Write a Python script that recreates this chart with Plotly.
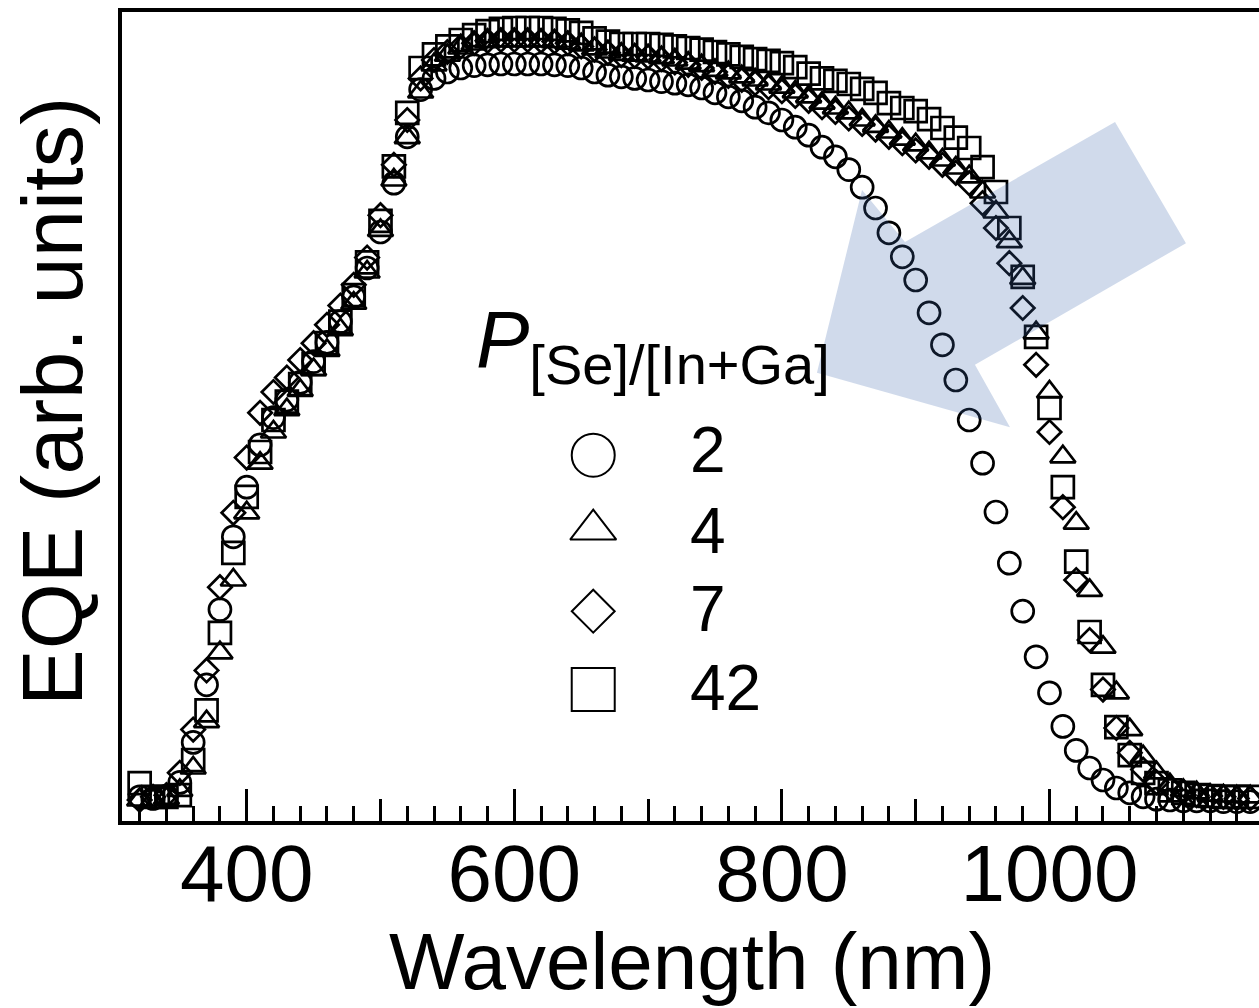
import plotly.graph_objects as go

# ---------------- data (EQE, arbitrary units) ----------------
wavelength = [320, 330, 340, 350, 360, 370, 380, 390, 400, 410, 420, 430, 440, 450, 460, 470, 480, 490,
              500, 510, 520, 530, 540, 550, 560, 570, 580, 590, 600, 610, 620, 630, 640, 650, 660, 670,
              680, 690, 700, 710, 720, 730, 740, 750, 760, 770, 780, 790, 800, 810, 820, 830, 840, 850,
              860, 870, 880, 890, 900, 910, 920, 930, 940, 950, 960, 970, 980, 990, 1000, 1010, 1020,
              1030, 1040, 1050, 1060, 1070, 1080, 1090, 1100, 1110, 1120, 1130, 1140, 1150]

eqe_p2 = [0.4, 0.2, 0.5, 2.2, 7.2, 14.4, 23.8, 32.9, 39.1, 44.4, 47.8, 50.0, 52.2, 54.8, 57.2, 59.8, 62.9, 66.5,
          71.0, 77.1, 82.9, 88.8, 90.2, 91.0, 91.5, 91.8, 91.9, 92.0, 92.0, 92.0, 92.0, 91.9, 91.8, 91.5, 91.0, 90.6,
          90.4, 90.2, 90.0, 89.8, 89.6, 89.4, 89.0, 88.4, 87.9, 87.4, 86.6, 85.9, 85.0, 84.1, 83.1, 81.6, 80.4, 78.8,
          76.6, 74.0, 70.9, 67.9, 65.0, 60.9, 56.9, 52.5, 47.5, 42.1, 36.0, 29.6, 23.6, 17.9, 13.4, 9.2, 6.2,
          4.0, 2.5, 1.5, 0.9, 0.4, 0.1, 0.0, -0.1, -0.1, -0.1, -0.2, -0.2, -0.2]

eqe_p4 = [0.0, 0.0, 0.2, 1.2, 4.0, 9.8, 18.4, 27.5, 35.9, 42.1, 46.0, 48.8, 51.2, 53.8, 56.2, 58.8, 62.1, 66.0,
          71.2, 77.5, 82.8, 88.5, 91.9, 93.1, 94.0, 94.5, 94.8, 94.9, 94.9, 94.9, 94.9, 94.8, 94.6, 94.4, 93.9, 93.5,
          93.2, 93.1, 93.0, 92.8, 92.5, 92.1, 91.8, 91.2, 90.9, 90.4, 90.0, 89.5, 89.1, 88.5, 87.9, 87.1, 86.5, 85.9,
          85.0, 84.2, 83.5, 82.6, 81.9, 80.9, 80.0, 79.0, 77.9, 76.0, 73.5, 69.8, 65.2, 58.4, 51.0, 42.9, 34.6,
          26.2, 19.1, 13.4, 8.8, 5.4, 3.4, 1.9, 1.2, 0.9, 0.6, 0.5, 0.4, 0.4]

eqe_p7 = [0.0, 0.4, 0.6, 3.4, 8.8, 16.2, 26.6, 35.9, 42.8, 48.4, 51.0, 52.8, 55.0, 57.1, 59.4, 61.8, 64.4, 67.8,
          73.1, 79.4, 85.0, 90.2, 92.5, 93.5, 94.2, 94.6, 94.9, 95.0, 95.0, 95.0, 94.9, 94.8, 94.6, 94.2, 93.8, 93.4,
          93.1, 93.0, 92.9, 92.6, 92.2, 91.9, 91.5, 91.0, 90.5, 90.0, 89.6, 89.1, 88.6, 88.0, 87.4, 86.6, 86.0, 85.2,
          84.5, 83.8, 82.9, 82.1, 81.2, 80.4, 79.4, 78.4, 77.1, 74.6, 71.5, 67.1, 61.5, 54.4, 46.0, 36.6, 27.5,
          20.0, 13.8, 9.0, 5.9, 3.8, 2.2, 1.5, 1.0, 0.6, 0.5, 0.4, 0.2, 0.2]

eqe_p42 = [2.1, 0.4, 0.4, 0.6, 5.0, 11.2, 20.9, 30.9, 37.9, 43.5, 47.5, 49.8, 52.0, 54.5, 57.1, 59.8, 63.1, 67.2,
           72.4, 79.2, 85.9, 91.5, 93.2, 94.2, 95.0, 95.6, 96.1, 96.4, 96.5, 96.5, 96.5, 96.4, 96.2, 95.9, 95.2, 94.8,
           94.5, 94.5, 94.5, 94.4, 94.2, 94.0, 93.8, 93.5, 93.2, 92.9, 92.6, 92.4, 92.1, 91.6, 90.8, 90.2, 89.9, 89.5,
           88.9, 88.4, 87.1, 86.5, 86.1, 85.1, 84.0, 82.8, 81.5, 79.1, 76.0, 71.5, 65.4, 57.9, 49.0, 39.1, 29.8,
           21.0, 14.4, 9.1, 5.6, 3.4, 2.1, 1.2, 0.9, 0.6, 0.5, 0.4, 0.4, 0.4]

series_labels = ["2", "4", "7", "42"]
series_values = [eqe_p2, eqe_p4, eqe_p7, eqe_p42]
series_symbols = ["circle-open", "triangle-up-open", "diamond-open", "square-open"]
series_sizes = [22, 22, 18, 22]
legend_sizes = [43, 40, 33, 43]

major_ticks = [400, 600, 800, 1000]
medium_ticks = [500, 700, 900, 1100]

# legend key positions (data units of the plot)
legend_x = [659, 659, 659, 659]
legend_y = [43.1, 33.8, 23.6, 13.8]

# arrow outline (data units)
arrow_x = [1049, 1102, 944.3, 970.5, 826.2, 859.9, 892]
arrow_y = [84.75, 69.6, 54.4, 46.6, 53.4, 76.25, 69.75]

X_RANGE = [306.8, 1156.6]
Y_RANGE = [-2.625, 98.5]

FONT = "Liberation Sans, Arial, sans-serif"

fig = go.Figure()

for lab, vals, sym, sz in zip(series_labels, series_values, series_symbols, series_sizes):
    fig.add_trace(go.Scatter(
        x=wavelength, y=vals, mode="markers", name=lab,
        marker=dict(symbol=sym, size=sz, color="black", line=dict(color="black", width=2.7)),
        showlegend=False,
    ))

# legend keys
for lx, ly, sym, sz in zip(legend_x, legend_y, series_symbols, legend_sizes):
    fig.add_trace(go.Scatter(
        x=[lx], y=[ly], xaxis="x2", yaxis="y", mode="markers",
        marker=dict(symbol=sym, size=sz, color="black", line=dict(color="black", width=2)),
        showlegend=False, hoverinfo="skip",
    ))

# arrow
path = "M " + " L ".join(f"{ax},{ay}" for ax, ay in zip(arrow_x, arrow_y)) + " Z"
fig.add_shape(type="path", path=path, xref="x", yref="y",
              fillcolor="rgba(60,100,170,0.24)", line=dict(width=0), layer="above")

W, H = 1259, 1008
ML, MR, MT, MB = 122, 0, 12, 187
pw, ph = W - ML - MR, H - MT - MB

def px(xp):
    return (xp - ML) / pw

def py(yp):
    return (H - MB - yp) / ph

annotations = [
    dict(text="Wavelength (nm)", x=px(692), y=py(962), xref="paper", yref="paper",
         xanchor="center", yanchor="middle", showarrow=False,
         font=dict(family=FONT, size=80, color="black")),
    dict(text="EQE (arb. units)", x=px(52), y=py(402), xref="paper", yref="paper",
         xanchor="center", yanchor="middle", textangle=-90, showarrow=False,
         font=dict(family=FONT, size=85, color="black")),
    dict(text="<i>P</i><sub>[Se]/[In+Ga]</sub>", x=px(474), y=py(345), xref="paper", yref="paper",
         xanchor="left", yanchor="middle", showarrow=False,
         font=dict(family=FONT, size=80, color="black")),
]
label_y = [450, 531, 609, 688]
for lab, ly in zip(series_labels, label_y):
    annotations.append(dict(text=lab, x=px(688), y=py(ly), xref="paper", yref="paper",
                            xanchor="left", yanchor="middle", showarrow=False,
                            font=dict(family=FONT, size=64, color="black")))

fig.update_layout(
    width=W, height=H,
    margin=dict(l=ML, r=MR, t=MT, b=MB, pad=0),
    paper_bgcolor="white", plot_bgcolor="white",
    showlegend=False,
    font=dict(family=FONT, color="black"),
    xaxis=dict(
        range=X_RANGE, showgrid=False, zeroline=False,
        showline=True, linecolor="black", linewidth=4, mirror=True,
        ticks="inside", tickvals=major_ticks, ticklen=32, tickwidth=3, tickcolor="black",
        tickfont=dict(family=FONT, size=80, color="black"),
        ticklabelstandoff=-20,
        minor=dict(ticks="inside", dtick=20, tick0=300, ticklen=15, tickwidth=3, tickcolor="black", showgrid=False),
    ),
    xaxis2=dict(
        range=X_RANGE, overlaying="x", anchor="y", side="bottom",
        showgrid=False, zeroline=False, showline=False,
        ticks="inside", tickvals=medium_ticks, ticklen=22, tickwidth=3, tickcolor="black",
        showticklabels=False,
    ),
    yaxis=dict(
        range=Y_RANGE, showgrid=False, zeroline=False,
        showline=True, linecolor="black", linewidth=4, mirror=False,
        ticks="", showticklabels=False,
    ),
    annotations=annotations,
)

fig.write_html("out.html")
